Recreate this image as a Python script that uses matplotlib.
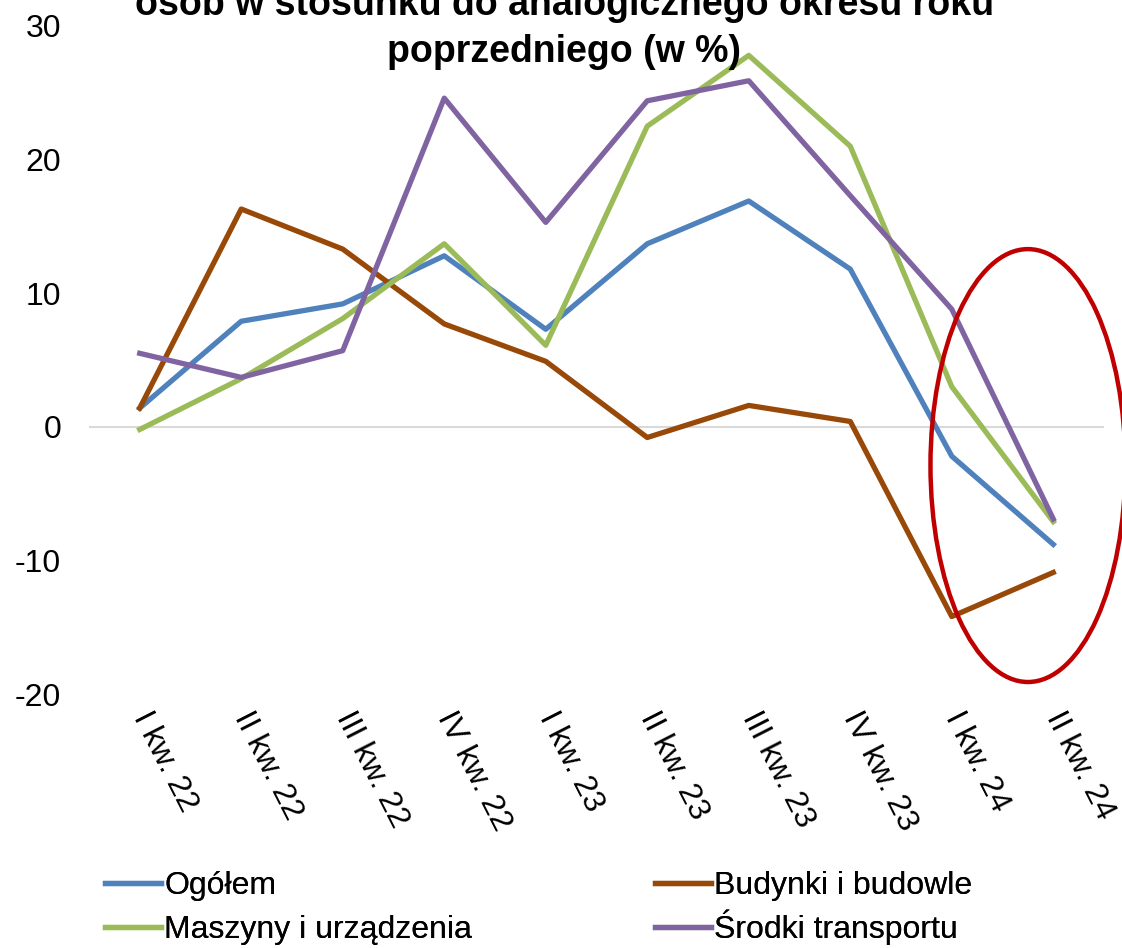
import matplotlib
matplotlib.use("Agg")
import matplotlib.pyplot as plt
from matplotlib.patches import Ellipse
import numpy as np

plt.rcParams['font.family'] = ['Liberation Sans', 'DejaVu Sans']

# dane (dynamika nakładów, % r/r)
kwartaly = ['I kw. 22', 'II kw. 22', 'III kw. 22', 'IV kw. 22',
            'I kw. 23', 'II kw. 23', 'III kw. 23', 'IV kw. 23',
            'I kw. 24', 'II kw. 24']
ogolem = [1.4, 7.9, 9.2, 12.8, 7.3, 13.7, 16.9, 11.8, -2.2, -8.8]
budynki = [1.4, 16.3, 13.3, 7.7, 4.9, -0.8, 1.6, 0.4, -14.2, -10.9]
maszyny = [-0.2, 3.6, 8.1, 13.7, 6.1, 22.5, 27.8, 21.0, 3.0, -7.1]
transport = [5.5, 3.7, 5.7, 24.6, 15.3, 24.4, 25.9, 17.3, 8.8, -6.9]

y_ticks = [-20, -10, 0, 10, 20, 30]

fig = plt.figure(figsize=(11.22, 9.48), dpi=100)
ax = fig.add_axes([0.0793, 0.2679, 0.9047, 0.7047])

x = np.arange(len(kwartaly))
ax.axhline(0, color='#D9D9D9', lw=1.5, zorder=1)

l1, = ax.plot(x, ogolem, color='#4F81BD', lw=3.8, label='Ogółem', zorder=3)
l2, = ax.plot(x, budynki, color='#984807', lw=3.8, label='Budynki i budowle', zorder=3)
l3, = ax.plot(x, maszyny, color='#9BBB59', lw=3.8, label='Maszyny i urządzenia', zorder=3)
l4, = ax.plot(x, transport, color='#8064A2', lw=3.8, label='Środki transportu', zorder=3)

ax.set_xlim(-0.5, len(kwartaly) - 0.5)
ax.set_ylim(-20, 30)
ax.set_yticks(y_ticks)
ax.set_yticklabels([str(v) for v in y_ticks])
ax.set_xticks(x)
ax.set_xticklabels(kwartaly)

for s in ax.spines.values():
    s.set_visible(False)
ax.tick_params(axis='y', length=0, pad=20, labelsize=23)
ax.tick_params(axis='x', length=0, pad=14, labelsize=23)
for lab in ax.get_xticklabels():
    lab.set_rotation(-63)
    lab.set_rotation_mode('anchor')
    lab.set_ha('left')
    lab.set_va('center')

# czerwona elipsa wokół ostatnich kwartałów
ell = Ellipse((8.75, -2.9), 1.92, 32.4, fill=False, edgecolor='#C00000',
              lw=3.2, clip_on=False, zorder=4)
ax.add_patch(ell)

# tytuł (pierwsza linia częściowo ucięta górną krawędzią, jak w oryginale)
tytul = ['osób w stosunku do analogicznego okresu roku', 'poprzedniego (w %)']
for linia, py in zip(tytul, [15, 62]):
    fig.text(0.503, 1 - py / 948, linia, ha='center', va='baseline',
             fontsize=27, fontweight='bold')

# legenda: 2 kolumny, każdy wpis ustawiony osobno, żeby wiersze były równe
wpisy = [(l1, 'Ogółem', 105, 886), (l2, 'Budynki i budowle', 655, 886),
         (l3, 'Maszyny i urządzenia', 105, 930), (l4, 'Środki transportu', 655, 927)]
for h, txt, px, py in wpisy:
    leg = fig.legend([h], [txt], loc='center left',
                     bbox_to_anchor=(px / 1122, 1 - py / 948),
                     frameon=False, fontsize=23, handlelength=1.75,
                     handletextpad=0.1, borderpad=0, borderaxespad=0)
    fig.add_artist(leg)

fig.savefig('out.png', dpi=100)
